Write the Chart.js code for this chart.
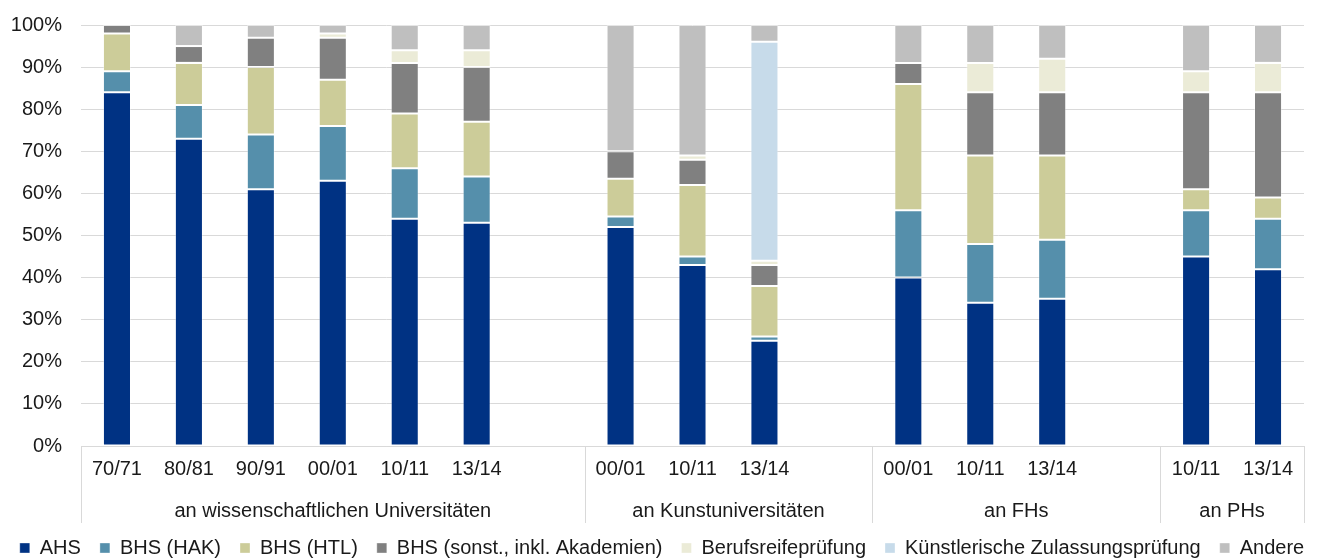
<!DOCTYPE html>
<html>
<head>
<meta charset="utf-8">
<script src="https://cdn.jsdelivr.net/npm/chart.js@4.4.1/dist/chart.umd.min.js"></script>
<style>
    html, body { margin: 0; padding: 0; background: #fff; }
    #wrap { width: 1324px; height: 558px; }
</style>
</head>
<body>
<div id="wrap"><canvas id="chart"></canvas></div>
<script>
// Categories (empty strings are the gaps between the groups)
const categories = ['70/71', '80/81', '90/91', '00/01', '10/11', '13/14', '',
                    '00/01', '10/11', '13/14', '',
                    '00/01', '10/11', '13/14', '',
                    '10/11', '13/14'];

const groupLabels = ['an wissenschaftlichen Universitäten', 'an Kunstuniversitäten', 'an FHs', 'an PHs'];
const groupStart = [0, 7, 11, 15];
const groupEnd = [6, 10, 14, 16];

// Shares in percent
const ahs     = [84, 73, 61, 63, 54, 53, null, 52, 43, 25, null, 40, 34, 35, null, 45, 42];
const hak     = [5, 8, 13, 13, 12, 11, null, 2.5, 2, 1, null, 16, 14, 14, null, 11, 12];
const htl     = [9, 10, 16, 11, 13, 13, null, 9, 17, 12, null, 30, 21, 20, null, 5, 5];
const sonst   = [2, 4, 7, 10, 12, 13, null, 6.5, 6, 5, null, 5, 15, 15, null, 23, 25];
const brp     = [0, 0, 0, 1, 3, 4, null, 0, 1, 1, null, 0, 7, 8, null, 5, 7];
const kzp     = [0, 0, 0, 0, 0, 0, null, 0, 0, 52, null, 0, 0, 0, null, 0, 0];
const andere  = [0, 5, 3, 2, 6, 6, null, 30, 31, 4, null, 9, 9, 8, null, 11, 9];

const yTicks = [0, 10, 20, 30, 40, 50, 60, 70, 80, 90, 100];

const FONT = 'Liberation Sans, Arial, sans-serif';
const TEXT = '#1a1a1a';
const LINE = '#d9d9d9';

function series(label, data, color) {
    return {
        label: label,
        data: data,
        backgroundColor: color,
        borderColor: 'rgba(255, 255, 255, 0.35)',
        borderWidth: 1,
        borderSkipped: false,
        barPercentage: 0.39,
        categoryPercentage: 1
    };
}

// Group captions and the vertical separators below the axis
const groupPlugin = {
    id: 'groups',
    afterLayout(chart) {
        // push the legend row down a bit, like in the original
        chart.legend.top += 10;
        chart.legend.bottom += 10;
    },
    afterDraw(chart) {
        const ctx = chart.ctx;
        const x = chart.scales.x;
        const area = chart.chartArea;
        const half = (x.getPixelForValue(1) - x.getPixelForValue(0)) / 2;
        ctx.save();
        ctx.strokeStyle = LINE;
        ctx.lineWidth = 1;
        ctx.beginPath();
        ctx.moveTo(area.left, area.bottom + 0.5);
        ctx.lineTo(area.right, area.bottom + 0.5);
        const edges = groupStart.map(i => x.getPixelForValue(i) - half);
        edges.push(x.getPixelForValue(groupEnd[groupEnd.length - 1]) + half);
        edges.forEach(px => {
            const p = Math.round(px) + 0.5;
            ctx.moveTo(p, area.bottom);
            ctx.lineTo(p, area.bottom + 77);
        });
        ctx.stroke();

        ctx.fillStyle = TEXT;
        ctx.font = '20px ' + FONT;
        ctx.textAlign = 'center';
        ctx.textBaseline = 'middle';
        groupLabels.forEach((g, i) => {
            const left = x.getPixelForValue(groupStart[i]) - half;
            const right = x.getPixelForValue(groupEnd[i]) + half;
            ctx.fillText(g, (left + right) / 2, area.bottom + 65);
        });
        ctx.restore();
    }
};

const chart = new Chart(document.getElementById('chart'), {
    type: 'bar',
    data: {
        labels: categories,
        datasets: [
            series('AHS', ahs, '#003283'),
            series('BHS (HAK)', hak, '#558fab'),
            series('BHS (HTL)', htl, '#cccc99'),
            series('BHS (sonst., inkl. Akademien)', sonst, '#808080'),
            series('Berufsreifeprüfung', brp, '#ebebd7'),
            series('Künstlerische Zulassungsprüfung', kzp, '#c7dbea'),
            series('Andere', andere, '#bfbfbf')
        ]
    },
    options: {
        responsive: true,
        maintainAspectRatio: false,
        animation: false,
        layout: {
            padding: { top: 25, right: 0, left: 0, bottom: 0 }
        },
        scales: {
            x: {
                stacked: true,
                grid: { display: false, drawTicks: false },
                border: { display: false },
                ticks: {
                    color: TEXT,
                    font: { family: FONT, size: 20 },
                    padding: 11,
                    maxRotation: 0,
                    autoSkip: false
                },
                afterFit: function(scale) {
                    scale.height = 63;
                }
            },
            y: {
                stacked: true,
                min: 0,
                max: 100,
                afterBuildTicks: function(scale) {
                    scale.ticks = yTicks.map(v => ({ value: v }));
                },
                // invisible tick marks keep the labels away from the plot
                grid: { color: LINE, drawTicks: true, tickLength: 18, tickColor: 'rgba(0, 0, 0, 0)' },
                border: { display: false },
                ticks: {
                    color: TEXT,
                    font: { family: FONT, size: 20 },
                    padding: 1,
                    callback: function(value) {
                        return value + '%';
                    }
                },
                afterFit: function(scale) {
                    scale.width = 81;
                }
            },
            // empty axis on the right, only keeps the plot 20px from the edge
            spacer: {
                type: 'linear',
                position: 'right',
                grid: { display: false, drawTicks: false },
                border: { display: false },
                ticks: { display: false },
                afterFit: function(scale) {
                    scale.width = 20;
                }
            }
        },
        plugins: {
            legend: {
                position: 'bottom',
                labels: {
                    color: TEXT,
                    font: { family: FONT, size: 20 },
                    boxWidth: 10,
                    boxHeight: 10,
                    padding: 19
                }
            },
            tooltip: { enabled: false }
        }
    },
    plugins: [groupPlugin]
});
</script>
</body>
</html>
